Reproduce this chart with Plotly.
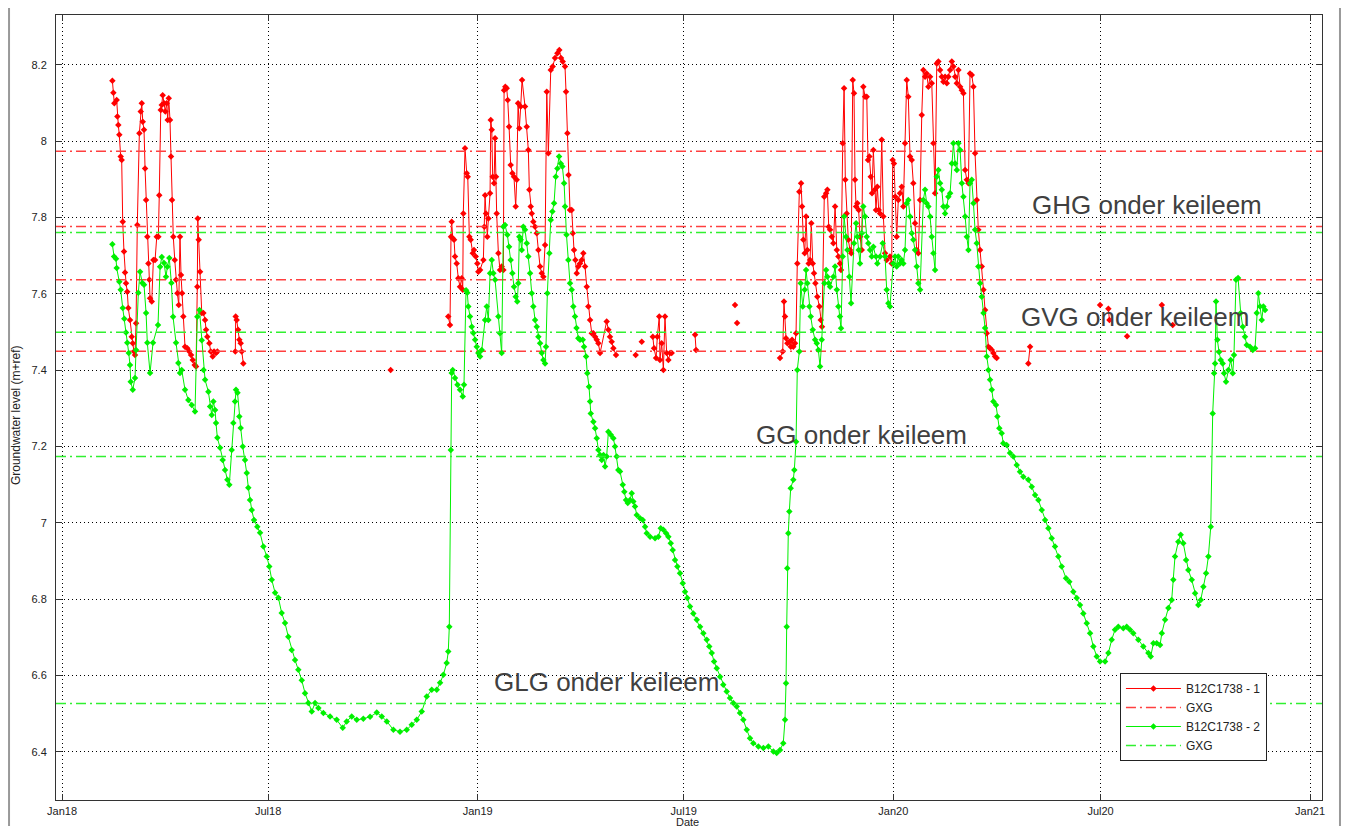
import pandas as pd
import plotly.graph_objects as go

BASE = pd.Timestamp("2018-01-01")

# ---- B12C1738 - 2 (green): days since 2018-01-01 and groundwater level (m+ref)
g_days = [44.2, 45.7, 47.4, 48.0, 50.3, 51.5, 53.3, 54.7, 56.2, 57.3, 58.6, 59.7, 60.3, 62.1, 64.1, 65.0,
          67.0, 68.5, 70.5, 72.0, 73.8, 74.9, 77.3, 79.9, 84.3, 86.1, 87.6, 89.6, 91.3, 92.5, 94.2, 96.0,
          97.5, 100.1, 102.1, 103.6, 105.1, 108.0, 110.9, 113.9, 116.8, 118.8, 120.7, 122.7, 124.3, 125.6,
          128.5, 130.0, 131.5, 132.9, 134.4, 135.2, 136.4, 138.8, 141.1, 143.1, 145.2, 146.9, 149.0, 150.4,
          151.9, 152.8, 154.1, 155.7, 156.9, 158.7, 160.7, 162.2, 163.6, 165.1, 166.6, 168.6, 171.5, 173.9,
          176.8, 179.8, 182.0, 184.2, 187.1, 190.0, 192.9, 195.8, 198.7, 201.7, 204.6, 207.5, 210.5, 213.4,
          216.3, 219.3, 222.2, 225.1, 229.5, 235.4, 241.2, 246.5, 250.0, 254.4, 258.8, 264.6, 270.5, 276.4,
          280.8, 285.2, 291.0, 296.8, 302.7, 307.1, 311.5, 315.9, 320.3, 324.7, 329.1, 332.0, 334.9, 337.8,
          339.2, 340.1, 341.4, 342.2, 343.1, 345.1, 347.3, 349.5, 351.9, 353.0,
          354.8, 355.9, 356.8, 358.3, 359.8, 361.2, 362.7, 364.2, 365.6, 367.1, 368.6, 371.5, 373.0, 374.4,
          375.9, 377.4, 378.8, 380.3, 383.2, 384.6, 386.1, 387.6, 389.0, 391.1, 392.6, 394.0, 395.5, 396.9,
          398.4, 399.8, 400.7, 401.6, 402.8, 403.7, 405.1, 406.6, 408.1, 409.5, 411.0, 412.5, 413.9, 415.4,
          416.9, 418.3, 419.8, 421.3, 422.7, 424.2, 425.0, 426.2, 428.0, 429.2, 430.6, 432.1, 433.6, 435.0,
          436.5, 438.0, 439.4, 440.9, 441.7, 443.0, 444.6, 446.1, 447.6, 449.0, 450.5, 451.8, 453.4, 454.9,
          457.3, 458.4, 460.2, 461.3, 462.8, 463.7, 464.3, 466.6, 468.1, 469.6, 471.0, 472.5, 474.0, 475.5,
          476.9, 478.3, 479.8, 481.9, 484.2, 485.6, 487.1, 488.5, 490.0, 492.4, 493.8, 495.3, 496.8, 498.8,
          500.3, 501.7, 503.2, 504.7, 507.6, 510.0, 512.0, 513.5, 516.4, 520.8, 523.7, 525.8, 528.1, 530.5,
          532.5, 534.6, 536.3, 538.3, 540.4, 542.7, 545.1, 547.1, 549.1, 551.5, 554.4, 557.4, 560.3, 563.2,
          566.2, 568.4, 570.6, 572.6, 575.0, 577.9, 580.7, 583.7, 586.6, 589.5, 592.5, 595.4, 598.3, 601.3,
          604.2, 607.1, 611.5, 615.9, 620.3, 624.7, 627.6, 630.5, 633.4, 634.9, 635.8, 636.4, 636.9, 637.8,
          638.7, 639.9, 642.2, 643.1, 644.6, 645.7,
          647.5, 648.7, 650.5, 652.2, 653.4, 654.5, 656.3, 657.5, 659.3, 661.3, 662.8, 664.2, 665.7, 667.2,
          669.5, 671.0, 672.1, 673.3, 674.5, 677.4, 678.9, 680.4, 681.8, 683.2, 684.1, 685.6, 686.8, 688.5,
          689.7, 691.4, 692.9, 695.5, 697.3, 698.4, 699.6, 700.8, 702.3, 703.7, 705.2, 706.7, 708.1, 709.6,
          711.1, 712.5, 714.8, 716.0, 718.4, 720.7, 722.8, 724.2, 725.7, 727.1, 730.0, 731.5, 733.0, 734.4,
          735.9, 737.4, 738.8, 740.3, 741.8, 743.2, 744.7, 746.2, 747.6, 749.1, 750.6, 752.0, 753.5, 756.4,
          757.9, 759.3, 760.8, 762.3, 763.8, 765.2, 766.7, 768.2, 769.6, 771.1, 772.6, 774.0, 775.5, 777.0,
          778.4, 779.9, 781.4, 782.8, 784.3, 785.8, 787.2, 788.7, 790.2, 791.6, 793.1, 794.6, 796.0, 797.4,
          798.9, 800.4, 801.8, 803.3, 804.7, 806.2, 807.7, 809.2, 810.6, 812.1, 813.5, 815.0, 816.5, 817.9,
          820.2, 821.4, 823.1, 825.2, 826.6, 829.6, 832.5, 835.4, 838.4, 841.3, 844.2, 848.6, 851.6, 854.5,
          857.4, 860.4, 863.3, 866.2, 869.1, 872.0, 875.0, 877.9, 881.7, 884.6, 888.1, 891.1, 894.0, 896.9,
          899.9, 902.8, 905.7, 908.7, 911.6, 916.0, 918.9, 921.8, 924.7, 927.6, 932.0, 935.0, 937.9, 940.8,
          945.2, 949.6, 954.0, 956.1, 958.4, 961.4, 964.3, 965.8, 968.7, 971.6, 974.5, 975.9, 977.4, 980.3,
          982.4, 984.7, 987.1, 989.1, 992.1, 995.0, 997.9, 1000.0, 1002.3, 1004.7, 1006.7, 1008.8, 1010.5,
          1011.7, 1012.6, 1013.4, 1014.6, 1016.1, 1017.6, 1019.3, 1020.5, 1022.2, 1024.3, 1026.3, 1028.1,
          1029.2, 1031.0, 1032.8, 1035.1, 1036.9, 1038.9, 1040.4, 1043.3, 1045.7, 1047.7, 1049.2, 1050.6,
          1052.1, 1053.6, 1055.0, 1056.5]
g_vals = [7.730, 7.698, 7.692, 7.668, 7.632, 7.611, 7.563, 7.535, 7.499, 7.472, 7.445, 7.414, 7.370, 7.349, 7.380, 7.453,
          7.603, 7.658, 7.629, 7.624, 7.550, 7.472, 7.393, 7.472, 7.519, 7.671, 7.697, 7.681, 7.645, 7.671, 7.694, 7.629,
          7.540, 7.472, 7.419, 7.393, 7.401, 7.349, 7.322, 7.309, 7.292, 7.540, 7.558, 7.479, 7.401, 7.375,
          7.344, 7.305, 7.283, 7.318, 7.296, 7.262, 7.223, 7.197, 7.165, 7.139, 7.113, 7.100, 7.191, 7.262,
          7.318, 7.349, 7.341, 7.279, 7.249, 7.200, 7.165, 7.131, 7.092, 7.060, 7.034, 7.008, 6.990, 6.974,
          6.938, 6.912, 6.886, 6.851, 6.817, 6.804, 6.764, 6.738, 6.702, 6.667, 6.641, 6.615, 6.588, 6.554,
          6.528, 6.506, 6.528, 6.515, 6.502, 6.493, 6.484, 6.463, 6.480, 6.493, 6.484, 6.487, 6.492, 6.503,
          6.493, 6.480, 6.458, 6.453, 6.458, 6.471, 6.484, 6.506, 6.545, 6.563, 6.563, 6.581, 6.602, 6.633,
          6.663, 6.728, 7.191, 7.393, 7.401, 7.380, 7.362, 7.349, 7.331, 7.362,
          7.610, 7.603, 7.567, 7.541, 7.514, 7.498, 7.480, 7.462, 7.445, 7.436, 7.453, 7.532, 7.567, 7.532,
          7.654, 7.689, 7.654, 7.637, 7.541, 7.497, 7.445, 7.776, 7.781, 7.755, 7.724, 7.689, 7.654, 7.619,
          7.593, 7.580, 7.628, 7.750, 7.742, 7.715, 7.776, 7.768, 7.733, 7.698, 7.654, 7.602, 7.567, 7.532,
          7.514, 7.488, 7.471, 7.445, 7.427, 7.418, 7.462, 7.602, 7.707, 7.794, 7.816, 7.838, 7.907, 7.929,
          7.960, 7.942, 7.934, 7.890, 7.829, 7.755, 7.689, 7.628, 7.611, 7.567, 7.541, 7.511, 7.484, 7.480,
          7.480, 7.462, 7.436, 7.392, 7.357, 7.318, 7.287, 7.265, 7.248, 7.222, 7.191, 7.178, 7.165, 7.178,
          7.148, 7.174, 7.239, 7.231, 7.222, 7.200, 7.174, 7.139, 7.135, 7.100, 7.082, 7.060, 7.052, 7.060,
          7.078, 7.056, 7.043, 7.021, 7.012, 7.008, 6.990, 6.973, 6.964, 6.960, 6.964, 6.986, 6.982, 6.973,
          6.964, 6.947, 6.929, 6.903, 6.886, 6.868, 6.842, 6.820, 6.803, 6.781, 6.763, 6.746, 6.728, 6.711,
          6.694, 6.676, 6.659, 6.637, 6.619, 6.597, 6.576, 6.558, 6.541, 6.528, 6.519, 6.502, 6.484, 6.458,
          6.436, 6.423, 6.414, 6.410, 6.414, 6.401, 6.397, 6.405, 6.423, 6.484, 6.580, 6.728, 6.881, 6.973,
          7.030, 7.091, 7.113, 7.139, 7.213, 7.401,
          7.449, 7.628, 7.567, 7.611, 7.663, 7.628, 7.567, 7.541, 7.506, 7.480, 7.471, 7.453, 7.410, 7.480,
          7.628, 7.663, 7.645, 7.628, 7.619, 7.645, 7.672, 7.611, 7.567, 7.541, 7.510, 7.698, 7.803, 7.750,
          7.715, 7.645, 7.576, 7.733, 7.785, 7.750, 7.715, 7.680, 7.759, 7.829, 7.803, 7.750, 7.733, 7.715,
          7.698, 7.724, 7.698, 7.680, 7.698, 7.733, 7.698, 7.611, 7.576, 7.567, 7.680, 7.698, 7.672, 7.698,
          7.680, 7.689, 7.680, 7.715, 7.838, 7.846, 7.803, 7.759, 7.742, 7.715, 7.672, 7.628, 7.611, 7.846,
          7.873, 7.838, 7.829, 7.803, 7.750, 7.707, 7.663, 7.907, 7.925, 7.890, 7.873, 7.829, 7.811, 7.829,
          7.855, 7.864, 7.942, 7.995, 7.942, 7.925, 7.995, 7.977, 7.890, 7.855, 7.803, 7.750, 7.715, 7.890,
          7.899, 7.838, 7.768, 7.733, 7.672, 7.628, 7.593, 7.550, 7.511, 7.436, 7.401, 7.375, 7.349, 7.318,
          7.309, 7.279, 7.248, 7.235, 7.209, 7.204, 7.183, 7.174, 7.152, 7.134, 7.121, 7.113, 7.095, 7.073,
          7.060, 7.034, 7.008, 6.986, 6.960, 6.938, 6.912, 6.886, 6.855, 6.846, 6.820, 6.803, 6.785, 6.763,
          6.737, 6.711, 6.676, 6.650, 6.637, 6.637, 6.659, 6.694, 6.720, 6.728, 6.724, 6.728, 6.720, 6.711,
          6.694, 6.676, 6.659, 6.650, 6.685, 6.685, 6.680, 6.711, 6.746, 6.777, 6.798, 6.851, 6.912, 6.951,
          6.969, 6.947, 6.903, 6.877, 6.851, 6.816, 6.785, 6.798, 6.833, 6.868, 6.912, 6.990, 7.287,
          7.392, 7.418, 7.580, 7.480, 7.448, 7.427, 7.418, 7.392, 7.370, 7.401, 7.427, 7.392,
          7.440, 7.637, 7.642, 7.550, 7.514, 7.488, 7.466, 7.462, 7.453, 7.458, 7.550, 7.602,
          7.567, 7.532, 7.567, 7.558]

# ---- B12C1738 - 1 (red): None marks a gap in the record
r_days = [44.2, 45.1, 45.9, 48.0, 48.6, 49.4, 50.3, 51.5, 52.4, 53.3, 54.4, 55.3, 56.2, 57.3, 58.2, 59.7,
          61.2, 62.1, 63.2, 64.1, 65.0, 66.1, 67.9, 69.1, 70.0, 70.9, 72.0, 72.9, 73.8, 74.9, 75.8, 76.7,
          77.3, 78.8, 80.2, 81.7, 83.2, 84.6, 85.4, 86.7, 87.6, 88.4, 89.6, 90.7, 91.9, 92.8, 93.7, 94.8,
          95.7, 96.6, 97.7, 99.0, 100.1, 101.3, 102.5, 103.6, 104.5, 105.4, 106.5, 108.0, 110.0, 111.8,
          113.3, 114.8, 116.5, 117.7, 118.8, 119.2, 120.0, 121.2, 122.7, 124.1, 125.6, 126.5, 127.6, 129.4,
          130.6, 132.3, 133.5, 135.2, 136.4, None,
          152.2, 152.5, 153.4, 154.6, 155.7, 156.9, 157.8, 159.2, None,
          288.6, None,
          339.2, 340.7, 341.6, 342.2, 343.1, 344.3, 345.1, 346.6, 348.0, 349.5, 351.0, 351.9, 352.4, 353.9,
          355.4, 356.3, 357.7, 358.9, 360.7, 361.8, 363.3, 364.7, 365.6, 367.1, 370.0, 370.9, 371.5, 372.3,
          373.5, 374.4, 375.9, 376.5, 377.4, 378.2, 379.4, 380.3, 381.1, 381.7, 383.2, 384.6, 386.1, 387.6,
          388.2, 389.3, 390.5, 391.4, 392.6, 394.0, 395.5, 396.9, 398.4, 399.3, 400.5, 401.6, 402.8, 404.0,
          406.6, 408.1, 409.5, 410.4, 411.6, 412.5, 413.9, 415.4, 416.9, 418.3, 419.8, 421.3, 422.7, 424.2,
          425.7, 427.1, 429.2, 430.9, 432.9, 435.0, 436.7, 438.2, 439.7, 441.7, 442.6, 443.8, 444.8, 446.1,
          447.6, 448.5, 449.6, 450.8, 452.0, 453.4, 454.9, 456.4, 457.8, 459.3, 460.8, 462.2, 463.7, 465.2,
          466.6, 468.1, 469.6, 471.0, 472.5, 478.3, 479.8, 481.2, 482.7, 484.2, 486.5, None,
          503.8, None, 509.1, None,
          518.8, 519.9, 521.7, 522.8, 524.5, 525.1, 526.6, 528.1, 529.5, 531.0, 532.5, 534.0, 535.4, None,
          555.9, 556.8, None, 591.0, None, 592.8, None,
          630.5, 632.9, 634.0, 634.9, 635.8, 637.0, 638.7, 640.0, 641.1, 642.2, 643.7, 644.6, 645.7, 647.5,
          649.0, 649.9, 651.0, 652.2, 653.4, 654.5, 655.7, 656.9, 658.0, 659.3, 660.4, 661.6, 663.3, 665.1,
          666.3, 667.4, 669.4, 671.0, 672.1, 673.3, 674.5, 676.0, 677.4, 678.9, 680.4, 681.8, 683.2, 684.1,
          685.6, 686.8, 687.9, 689.1, 690.5, 692.0, 693.1, 694.4, 695.5, 696.4, 697.3, 698.4, 699.6, 700.8,
          702.3, 703.7, 705.2, 706.7, 707.8, 709.0, 710.2, 711.3, 712.5, 713.7, 714.8, 716.0, 717.2, 718.4,
          719.9, 721.3, 722.8, 724.2, 727.1, 728.6, 729.5, 730.6, 731.8, 733.0, 734.4, 735.9, 737.4, 738.8,
          740.3, 741.8, 743.2, 744.7, 746.2, 747.6, 749.1, 750.6, 752.0, 753.5, 755.0, 756.4, 757.9, 759.3,
          760.8, 762.3, 763.8, 765.2, 766.7, 768.2, 769.6, 771.1, 772.6, 774.0, 775.5, 777.0, 778.4, 779.9,
          781.4, 782.8, 784.3, 785.8, 787.2, 788.7, 790.2, 791.6, 793.1, 794.6, 796.0, 797.4, 798.9, 800.4,
          801.8, 803.3, 804.7, 806.2, 807.7, 809.2, 810.6, 812.1, 813.5, 815.0, 816.5, 817.9, 819.4, 820.8, None,
          848.6, 850.1, None, 911.6, None, 918.9, 919.8, None, 935.3, None, 965.8, None, 975.4]
r_vals = [8.159, 8.127, 8.100, 8.108, 8.065, 8.043, 8.017, 7.960, 7.951, 7.789, 7.711, 7.656, 7.628, 7.606, 7.563, 7.532,
          7.488, 7.471, 7.449, 7.440, 7.523, 7.781, 8.021, 8.078, 8.100, 8.051, 8.030, 7.929, 7.846, 7.750, 7.680, 7.637,
          7.589, 7.580, 7.689, 7.689, 7.750, 7.750, 7.859, 8.082, 8.095, 8.121, 8.100, 8.078, 8.100, 8.056, 8.113, 8.056,
          7.960, 7.846, 7.750, 7.689, 7.637, 7.602, 7.571, 7.750, 7.650, 7.602, 7.541, 7.462, 7.458, 7.449,
          7.440, 7.427, 7.414, 7.410, 7.619, 7.798, 7.742, 7.658, 7.550, 7.550, 7.532, 7.506, 7.488, 7.471,
          7.449, 7.436, 7.449, 7.445, 7.449, None,
          7.449, 7.541, 7.532, 7.506, 7.480, 7.471, 7.449, 7.418, None,
          7.401, None,
          7.541, 7.519, 7.750, 7.789, 7.746, 7.742, 7.698, 7.680, 7.641, 7.619, 7.641, 7.611, 7.811, 7.982,
          7.916, 7.907, 7.750, 7.742, 7.707, 7.715, 7.698, 7.680, 7.658, 7.663, 7.689, 7.776, 7.859, 7.811,
          7.750, 7.798, 7.864, 8.056, 8.030, 7.907, 7.890, 8.008, 7.907, 7.811, 7.707, 7.663, 7.672, 7.663,
          8.134, 8.143, 8.139, 8.108, 8.038, 7.938, 7.916, 7.907, 7.829, 7.899, 8.100, 8.034, 8.091, 8.161,
          8.091, 8.038, 7.977, 7.873, 7.829, 7.811, 7.789, 7.776, 7.759, 7.715, 7.672, 7.654, 7.645, 7.728,
          8.130, 7.969, 8.187, 8.196, 8.218, 8.231, 8.239, 8.218, 8.209, 8.196, 8.130, 8.021, 7.912, 7.820,
          7.820, 7.759, 7.715, 7.689, 7.654, 7.672, 7.680, 7.689, 7.707, 7.672, 7.619, 7.567, 7.532, 7.497,
          7.497, 7.488, 7.480, 7.471, 7.445, 7.528, 7.506, 7.488, 7.475, 7.458, 7.440, None,
          7.440, None, 7.475, None,
          7.488, 7.458, 7.432, 7.488, 7.541, 7.427, 7.471, 7.401, 7.541, 7.445, 7.427, 7.445, 7.445, None,
          7.493, 7.453, None, 7.571, None, 7.524, None,
          7.432, 7.449, 7.580, 7.541, 7.484, 7.471, 7.475, 7.462, 7.480, 7.462, 7.471, 7.497, 7.680, 7.868,
          7.890, 7.829, 7.742, 7.707, 7.803, 7.715, 7.680, 7.689, 7.785, 7.680, 7.654, 7.628, 7.593, 7.567,
          7.532, 7.514, 7.855, 7.864, 7.873, 7.776, 7.768, 7.750, 7.733, 7.829, 7.715, 7.698, 7.680, 7.663,
          7.995, 8.139, 7.899, 7.811, 7.742, 7.715, 7.707, 8.161, 8.126, 7.899, 7.829, 7.838, 7.820, 7.750,
          7.715, 8.143, 8.117, 8.117, 7.951, 7.960, 7.907, 7.864, 7.977, 7.873, 7.820, 7.881, 7.820, 7.811,
          8.004, 7.803, 7.707, 7.689, 7.698, 7.680, 7.951, 7.942, 7.855, 7.750, 7.846, 7.864, 7.881, 7.829,
          7.995, 8.161, 8.117, 7.960, 7.951, 7.890, 7.785, 7.715, 7.707, 7.846, 8.069, 8.187, 8.169, 8.178,
          8.143, 8.169, 8.152, 7.995, 7.864, 8.204, 8.209, 8.187, 8.169, 8.156, 8.169, 8.152, 8.169, 8.187,
          8.209, 8.196, 8.169, 8.152, 8.187, 8.143, 8.134, 8.126, 7.925, 7.899, 7.890, 8.178, 8.174, 8.143,
          7.969, 7.846, 7.768, 7.715, 7.672, 7.611, 7.558, 7.497, 7.462, 7.458, 7.453, 7.445, 7.436, 7.432, None,
          7.418, 7.462, None, 7.571, None, 7.561, 7.532, None, 7.489, None, 7.571, None, 7.519]

# ---- GXG reference levels (m+ref)
gxg1_levels = [7.974, 7.777, 7.637, 7.450]
gxg2_levels = [7.761, 7.500, 7.174, 6.527]

# ---- Text labels
label_texts = ["GHG onder keileem", "GVG onder keileem", "GG onder keileem", "GLG onder keileem"]
label_days = [850.5, 840.0, 607.5, 377.5]
label_vals = [7.833, 7.540, 7.231, 6.583]

# ---- Ticks
x_tick_dates = ["2018-01-01", "2018-07-01", "2019-01-01", "2019-07-01",
                "2020-01-01", "2020-07-01", "2021-01-01"]
x_tick_labels = ["Jan18", "Jul18", "Jan19", "Jul19", "Jan20", "Jul20", "Jan21"]
y_tick_vals = [6.4, 6.6, 6.8, 7.0, 7.2, 7.4, 7.6, 7.8, 8.0, 8.2]
y_tick_labels = ["6.4", "6.6", "6.8", "7", "7.2", "7.4", "7.6", "7.8", "8", "8.2"]

x_range_days = [-5.3, 1106.5]
y_range = [6.274, 8.331]


def to_dates(days):
    return [BASE + pd.Timedelta(days=d) if d is not None else None for d in days]


x_lo, x_hi = to_dates(x_range_days)


def hlines(levels):
    xs, ys = [], []
    for v in levels:
        xs += [x_lo, x_hi, None]
        ys += [v, v, None]
    return xs, ys


RED = "#ff0000"
GREEN = "#00f000"
RED_REF = "#ff4040"
GREEN_REF = "#30f030"
FONT = "Liberation Sans, Arial, sans-serif"
DASHDOT = "10px,4px,2px,4px"

fig = go.Figure()
fig.add_trace(go.Scatter(x=to_dates(r_days), y=r_vals, mode="lines+markers", name="B12C1738 - 1",
                         line=dict(color=RED, width=1),
                         marker=dict(symbol="diamond", size=5, color=RED, line=dict(width=0))))
hx, hy = hlines(gxg1_levels)
fig.add_trace(go.Scatter(x=hx, y=hy, mode="lines", name="GXG",
                         line=dict(color=RED_REF, width=1.5, dash=DASHDOT)))
fig.add_trace(go.Scatter(x=to_dates(g_days), y=g_vals, mode="lines+markers", name="B12C1738 - 2",
                         line=dict(color=GREEN, width=1),
                         marker=dict(symbol="diamond", size=5, color=GREEN, line=dict(width=0))))
hx, hy = hlines(gxg2_levels)
fig.add_trace(go.Scatter(x=hx, y=hy, mode="lines", name="GXG",
                         line=dict(color=GREEN_REF, width=1.5, dash=DASHDOT)))

for t, d, v in zip(label_texts, label_days, label_vals):
    fig.add_annotation(x=to_dates([d])[0], y=v, text=t, showarrow=False, xanchor="left",
                       yanchor="middle", font=dict(family=FONT, size=26, color="#404040"))

fig.add_annotation(x=0.499, y=-0.0185, xref="paper", yref="paper", text="Date", showarrow=False,
                   xanchor="center", yanchor="top", borderpad=0,
                   font=dict(family=FONT, size=11, color="#222"))
fig.add_annotation(x=-0.031, y=0.49, xref="paper", yref="paper", text="Groundwater level (m+ref)",
                   showarrow=False, textangle=-90, xanchor="center", yanchor="middle",
                   font=dict(family=FONT, size=12, color="#222"))

# window borders seen at the sides of the screenshot
for xp in [-0.0371, 1.0142]:
    fig.add_shape(type="line", xref="paper", yref="paper", x0=xp, x1=xp, y0=-0.05, y1=1.03,
                  line=dict(color="#999999", width=2))

axis_common = dict(showline=True, linecolor="#333", linewidth=1, mirror="ticks", ticks="inside",
                   ticklen=6, tickcolor="#333", showgrid=True, gridcolor="#000", gridwidth=1,
                   griddash="1px,3px", zeroline=False, automargin=False,
                   tickfont=dict(family=FONT, size=11, color="#222"))

# page body has an 8px margin, so the figure is 8px smaller and margins are shifted
fig.update_layout(
    width=1341, height=818,
    margin=dict(l=48, r=27, t=7, b=26),
    paper_bgcolor="white", plot_bgcolor="white",
    showlegend=True,
    legend=dict(x=0.8404, y=0.1618, xanchor="left", yanchor="top", bgcolor="white",
                bordercolor="#222", borderwidth=1, font=dict(family=FONT, size=12, color="#222"),
                tracegroupgap=0, itemwidth=55),
    xaxis=dict(range=[x_lo, x_hi], tickvals=pd.to_datetime(x_tick_dates), ticktext=x_tick_labels,
               ticklabelstandoff=1, **axis_common),
    yaxis=dict(range=y_range, tickvals=y_tick_vals, ticktext=y_tick_labels, ticklabelstandoff=6,
               **axis_common),
)

fig.write_html("out.html")
